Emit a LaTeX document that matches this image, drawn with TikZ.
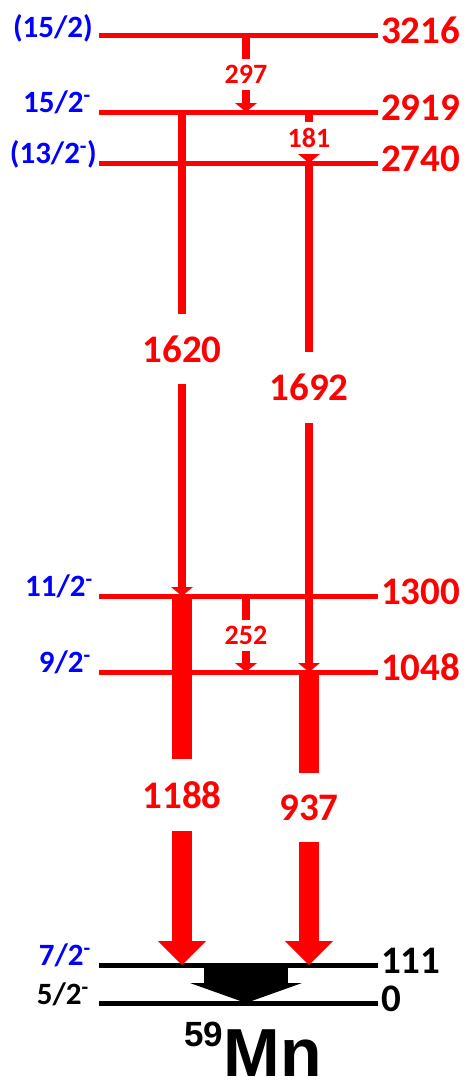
\documentclass[tikz,border=0pt]{standalone}
\usepackage{fontspec}
\setmainfont{Carlito}
\newfontfamily\isofont{Liberation Sans}
\usetikzlibrary{arrows.meta}

\tikzset{
  level/.style={line width=5pt},
  spin/.style={anchor=base east, inner sep=0pt, font=\fontsize{31}{31}\selectfont\bfseries},
  energy/.style={anchor=base west, inner sep=0pt, font=\fontsize{39}{39}\selectfont\bfseries},
  gthin/.style={red, line width=8pt, -{Triangle[width=22pt,length=9pt,line width=0pt]}},
  gthick/.style={red, line width=20pt, -{Triangle[width=48pt,length=24pt,line width=0pt]}},
  gsmall/.style={fill=white, text=red, inner xsep=2pt, inner ysep=6.5pt, font=\fontsize{28}{28}\selectfont\bfseries},
  glarge/.style={fill=white, text=red, inner xsep=2pt, inner ysep=22pt, font=\fontsize{39}{39}\selectfont\bfseries},
}

\begin{document}
\begin{tikzpicture}[x=1pt,y=-1pt]
    \useasboundingbox (0,0) rectangle (469,1085);

    % Levels
    \foreach \en/\y/\col in {3216/35/red, 2919/112/red, 2740/163/red, 1300/596/red, 1048/672/red, 111/965/black, 0/1003/black} {
        \draw[level, \col] (99,\y) coordinate (L\en) -- (378,\y);
        \node[energy, text=\col] (E\en) at (381,\y+8) {\en};
    }

    % Spins
    \node[spin, blue] (J3216) at (93,37) {(15/2)};
    \node[spin, blue] (J2919) at (91,112) {15/2\textsuperscript{-}};
    \node[spin, blue] (J2740) at (97,163) {(13/2\textsuperscript{-})};
    \node[spin, blue] (J1300) at (93,596) {11/2\textsuperscript{-}};
    \node[spin, blue] (J1048) at (91,672) {9/2\textsuperscript{-}};
    \node[spin, blue] (J111) at (91,965) {7/2\textsuperscript{-}};
    \node[spin, black] (J0) at (89,1004) {5/2\textsuperscript{-}};

    % Transition columns
    \coordinate (cA) at (182,0);
    \coordinate (cB) at (246,0);
    \coordinate (cC) at (309,0);

    % Gamma rays
    \draw[gthin] (cB |- L3216) -- (cB |- L2919);
    \node[gsmall] (g297) at (246,74.5) {297};
    \draw[gthin] (cC |- L2919) -- (cC |- L2740);
    \node[gsmall] (g181) at (309,138) {181};
    \draw[gthin] (cA |- L2919) -- (cA |- L1300);
    \node[glarge] (g1620) at (182,349) {1620};
    \draw[gthin] (cC |- L2740) -- (cC |- L1048);
    \node[glarge] (g1692) at (309,387.5) {1692};
    \draw[gthin] (cB |- L1300) -- (cB |- L1048);
    \node[gsmall] (g252) at (246,635.5) {252};
    \draw[gthick] (cA |- L1300) -- (cA |- L111);
    \node[glarge] (g1188) at (182,795) {1188};
    \draw[gthick] (cC |- L1048) -- (cC |- L111);
    \node[glarge] (g937) at (309,807.5) {937};

    % Ground-state feeding
    \draw[black, line width=84pt, -{Triangle[width=112pt,length=20pt,line width=0pt]}] (cB |- L111) -- (cB |- L0);

    % Nucleus
    \node[anchor=base, inner sep=0pt, font=\isofont\bfseries] (nuc) at (253,1076)
        {\raisebox{30pt}{\fontsize{35}{35}\selectfont 59}\fontsize{68}{68}\selectfont Mn};
\end{tikzpicture}
\end{document}
